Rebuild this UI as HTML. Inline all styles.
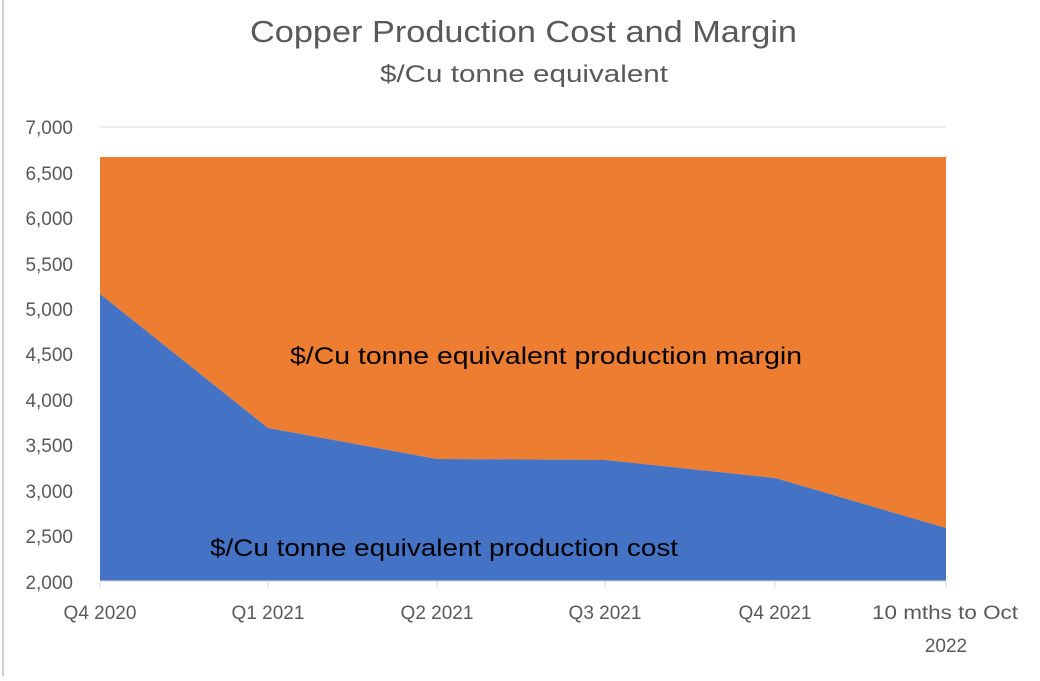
<!DOCTYPE html>
<html><head><style>
body{margin:0;width:1040px;height:676px;background:#fff;overflow:hidden;font-family:"Liberation Sans",sans-serif}
</style></head><body>
<svg width="1040" height="676" xmlns="http://www.w3.org/2000/svg" font-family="Liberation Sans, sans-serif">
<line x1="3" y1="0" x2="3" y2="676" stroke="#d0d0d0" stroke-width="2"/>
<text x="250" y="42" font-size="31" fill="#595959" textLength="547" lengthAdjust="spacingAndGlyphs">Copper Production Cost and Margin</text>
<text x="380" y="82" font-size="24" fill="#595959" textLength="288" lengthAdjust="spacingAndGlyphs">$/Cu tonne equivalent</text>
<line x1="100" y1="127" x2="946" y2="127" stroke="#d9d9d9"/>
<polygon points="100,157 946,157 946,528 775,478 605,460 437,459 268,428 100,294" fill="#ed7d31"/>
<polygon points="100,294 268,428 437,459 605,460 775,478 946,528 946,581 100,581" fill="#4472c4"/>
<line x1="100" y1="581" x2="946" y2="581" stroke="#d9d9d9"/>
<g stroke="#d9d9d9"><line x1="100" y1="581" x2="100" y2="588"/><line x1="268" y1="581" x2="268" y2="588"/><line x1="437" y1="581" x2="437" y2="588"/><line x1="605" y1="581" x2="605" y2="588"/><line x1="775" y1="581" x2="775" y2="588"/><line x1="946" y1="581" x2="946" y2="588"/></g>
<g font-size="19" fill="#595959" text-anchor="end">
<text x="73" y="134">7,000</text><text x="73" y="180">6,500</text><text x="73" y="225">6,000</text><text x="73" y="271">5,500</text><text x="73" y="316">5,000</text><text x="73" y="361">4,500</text><text x="73" y="407">4,000</text><text x="73" y="452">3,500</text><text x="73" y="498">3,000</text><text x="73" y="543">2,500</text><text x="73" y="589">2,000</text>
</g>
<g font-size="19" fill="#595959" text-anchor="middle">
<text x="100" y="619">Q4 2020</text><text x="268" y="619">Q1 2021</text><text x="437" y="619">Q2 2021</text><text x="605" y="619">Q3 2021</text><text x="775" y="619">Q4 2021</text><text x="945" y="619" textLength="146" lengthAdjust="spacingAndGlyphs">10 mths to Oct</text><text x="946" y="652">2022</text>
</g>
<text x="290" y="364" font-size="24" fill="#000" textLength="512" lengthAdjust="spacingAndGlyphs">$/Cu tonne equivalent production  margin</text>
<text x="210" y="556" font-size="24" fill="#000" textLength="468" lengthAdjust="spacingAndGlyphs">$/Cu tonne equivalent production cost</text>
</svg>
</body></html>
